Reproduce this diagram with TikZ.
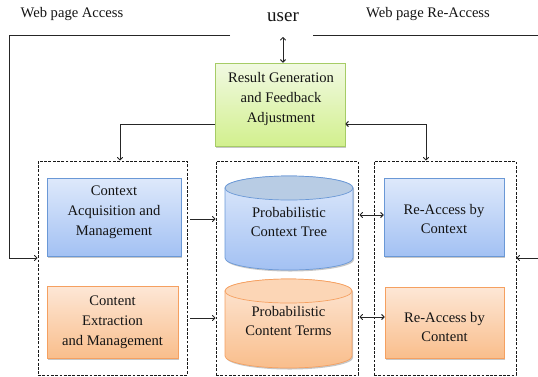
\documentclass[tikz,border=0pt]{standalone}
\usepackage{fontspec}
\setmainfont{Liberation Serif}
\usetikzlibrary{arrows.meta,shadows,calc}
\definecolor{blueTop}{HTML}{DEE9FB}
\definecolor{blueBot}{HTML}{A3C1F3}
\definecolor{blueLine}{HTML}{6A98D6}
\definecolor{orTop}{HTML}{FDE7D6}
\definecolor{orBot}{HTML}{F9BE8C}
\definecolor{orLine}{HTML}{F5A060}
\definecolor{grTop}{HTML}{F1F9E2}
\definecolor{grBot}{HTML}{D2F08E}
\definecolor{grLine}{HTML}{A6CC66}
\definecolor{cylBlueEnd}{HTML}{B8CCE4}
\definecolor{cylOrEnd}{HTML}{FCD6B6}
\definecolor{ink}{HTML}{141414}
\begin{document}
\begin{tikzpicture}[x=1pt,y=-1pt,
  every node/.style={font=\fontsize{14.6}{19.8}\selectfont, text=ink, align=center, inner sep=0pt},
  shadowed/.style={drop shadow={shadow xshift=1.2pt, shadow yshift=-1.5pt, fill=black, opacity=0.22}},
  bluebox/.style={draw=blueLine, line width=0.7pt, top color=blueTop, bottom color=blueBot, shadowed},
  orbox/.style={draw=orLine, line width=0.7pt, top color=orTop, bottom color=orBot, shadowed},
  grbox/.style={draw=grLine, line width=0.7pt, top color=grTop, bottom color=grBot, shadowed},
  group/.style={draw=black!90, line width=1pt, dash pattern=on 2.8pt off 1.5pt},
  arr/.style={draw=black!85, line width=1pt, -{To[length=3.5pt,width=6pt]}},
  arrtwo/.style={draw=black!85, line width=1pt, {To[length=3.5pt,width=6pt]}-{To[length=3.5pt,width=6pt]}}
]
\useasboundingbox (0,0) rectangle (538,376);

% top labels
\node (wa) at (72,14) {Web page Access};
\node (user) at (283,17) {\fontsize{19}{20}\selectfont user};
\node (wra) at (428,14) {Web page Re-Access};

% dashed groups
\node[group, minimum width=149pt, minimum height=214pt] (dl) at (112.5,268) {};
\node[group, minimum width=142pt, minimum height=214pt] (dc) at (287,268) {};
\node[group, minimum width=142pt, minimum height=214pt] (dr) at (445,268) {};

% green box
\node[grbox, minimum width=130pt, minimum height=83pt] (green) at (280,104.5) {};
\node at (281,99) {Result Generation\\and Feedback\\Adjustment};

% left boxes
\node[bluebox, minimum width=134pt, minimum height=78pt] (bl) at (114,217) {};
\node at (114,212) {Context\\Acquisition and\\Management};
\node[orbox, minimum width=131pt, minimum height=72pt] (ol) at (112.5,322) {Content\\Extraction\\and Management};

% right boxes
\node[bluebox, minimum width=120pt, minimum height=78pt] (br) at (444,217) {};
\node at (444,219) {Re-Access by\\Context};
\node[orbox, minimum width=119pt, minimum height=71pt] (or) at (444.5,322.5) {};
\node at (444.5,327) {Re-Access by\\Content};

% blue cylinder
\shade[draw=blueLine, line width=0.7pt, top color=blueTop, bottom color=blueBot, shadowed]
  (225,188) -- (225,258) arc[start angle=180, end angle=0, x radius=64, y radius=12]
  -- (353,188) arc[start angle=0, end angle=-180, x radius=64, y radius=12] -- cycle;
\draw[blueLine, line width=0.7pt, fill=cylBlueEnd] (289,188) ellipse[x radius=64, y radius=12];
\node (cb) at (289,222) {Probabilistic\\Context Tree};

% orange cylinder
\shade[draw=orLine, line width=0.7pt, top color=orTop, bottom color=orBot, shadowed]
  (225,291) -- (225,356) arc[start angle=180, end angle=0, x radius=63.5, y radius=12]
  -- (352,291) arc[start angle=0, end angle=-180, x radius=63.5, y radius=12] -- cycle;
\draw[orLine, line width=0.7pt, fill=cylOrEnd] (288.5,291) ellipse[x radius=63.5, y radius=12];
\node (co) at (288.5,321) {Probabilistic\\Content Terms};

% outer connectors
\coordinate (lstart) at (230,35);
\coordinate (lcorner) at (9,258);
\draw[arr] (lstart) -| (lcorner) -- (lcorner -| dl.west);
\coordinate (rstart) at (313,35);
\coordinate (rcorner) at (539,258);
\draw[arr] (rstart) -| (rcorner) -- (rcorner -| dr.east);

% user <-> green
\coordinate (ua) at (283,37);
\draw[arrtwo] (ua) -- (ua |- green.north);

% green to groups
\coordinate (gy) at (0,124);
\draw[arr] (green.west |- gy) -| ([xshift=7.5pt]dl.north);
\draw[arrtwo] (green.east |- gy) -| ([xshift=-19pt]dr.north);

% left to center
\coordinate (a1) at ([xshift=9pt,yshift=-2pt]bl.east);
\draw[arr] (a1) -- (a1 -| dc.west);
\coordinate (a2) at ([xshift=12pt,yshift=4pt]ol.east);
\draw[arr] (a2) -- (a2 -| dc.west);

% center to right
\coordinate (a3) at ([xshift=1pt]dc.east |- 0,215);
\draw[arrtwo] (a3) -- (a3 -| br.west);
\coordinate (a4) at ([xshift=1pt]dc.east |- 0,317);
\draw[arrtwo] (a4) -- (a4 -| or.west);
\end{tikzpicture}
\end{document}
